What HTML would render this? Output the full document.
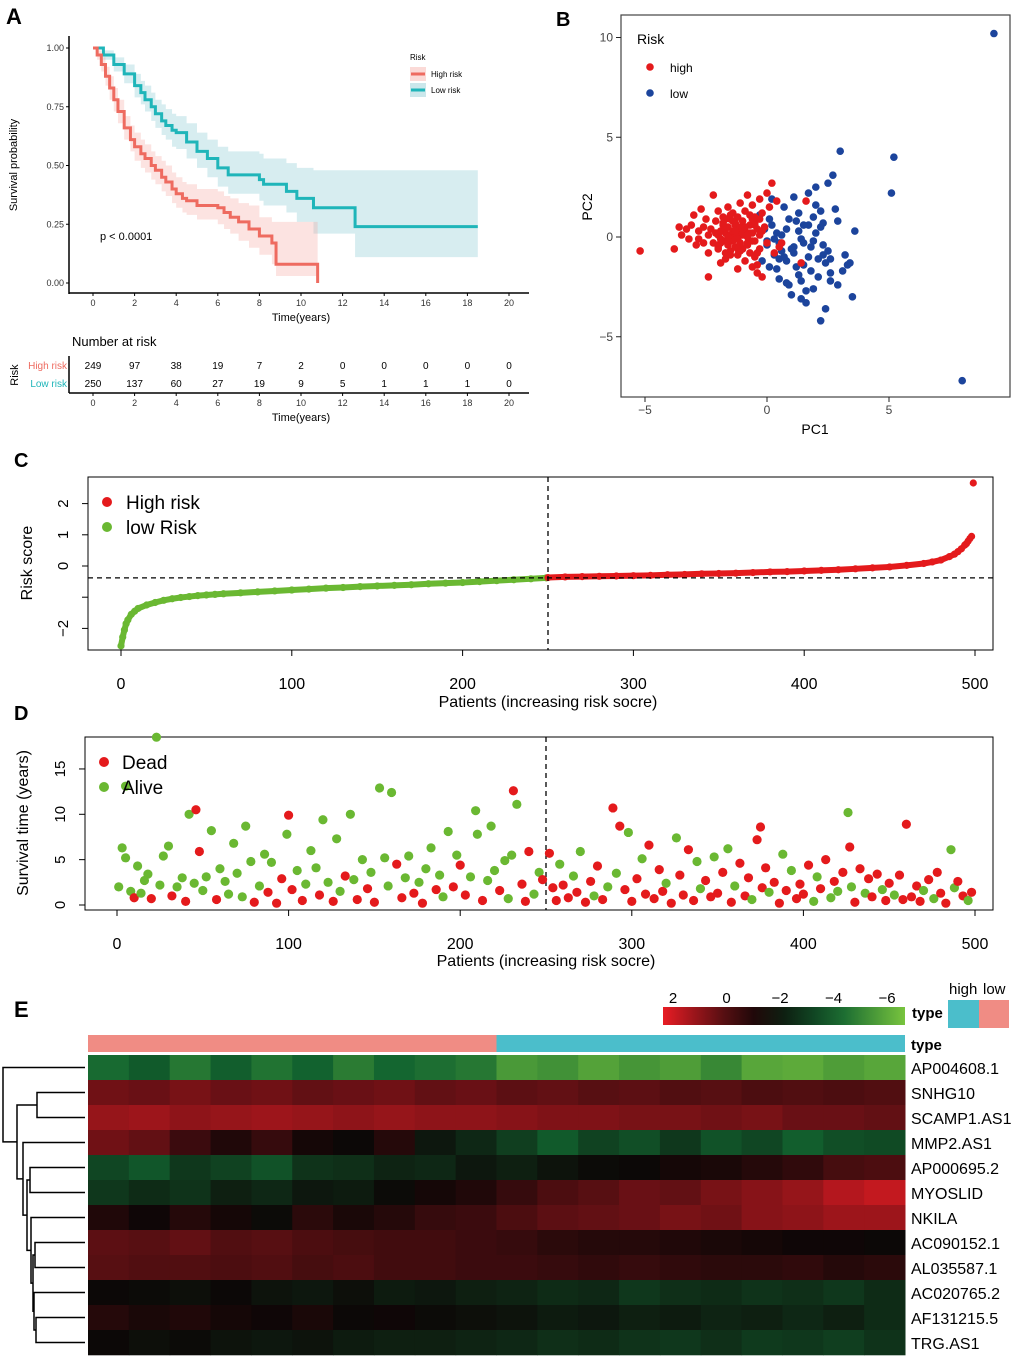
<!DOCTYPE html>
<html><head><meta charset="utf-8">
<style>
html,body{margin:0;padding:0;background:#fff;}
svg{display:block;font-family:"Liberation Sans",Arial,sans-serif;}
</style></head>
<body>
<svg id="fig" width="1020" height="1362" viewBox="0 0 1020 1362" xmlns="http://www.w3.org/2000/svg">
<g id="panelA"></g>
<g id="panelB"></g>
<g id="panelC"></g>
<g id="panelD"></g>
<g id="panelE"></g>
</svg>
<script>
// ===== Panel A data =====
const kmHighT=[0,0.2,0.4,0.6,0.8,1,1.2,1.5,1.8,2,2.3,2.5,2.8,3,3.3,3.5,3.8,4,4.3,4.5,5,6,6.3,6.6,7,7.5,8,8.6,8.8,10.8];
const kmHighS=[1,0.97,0.93,0.88,0.83,0.78,0.73,0.66,0.61,0.58,0.55,0.53,0.50,0.48,0.45,0.43,0.40,0.38,0.36,0.35,0.33,0.32,0.30,0.28,0.26,0.23,0.2,0.17,0.08,0.08];
const kmHighLo=[1,0.95,0.90,0.84,0.78,0.73,0.68,0.61,0.56,0.52,0.49,0.47,0.44,0.42,0.39,0.37,0.34,0.32,0.30,0.29,0.27,0.25,0.23,0.21,0.18,0.15,0.12,0.08,0.03,0.03];
const kmHighHi=[1,0.99,0.96,0.92,0.88,0.83,0.78,0.71,0.67,0.64,0.61,0.59,0.56,0.54,0.52,0.50,0.47,0.45,0.43,0.42,0.40,0.39,0.37,0.36,0.34,0.33,0.28,0.26,0.26,0.26];
const kmLowT=[0,0.5,1,1.5,2,2.3,2.5,2.8,3,3.3,3.5,3.8,4,4.5,5,5.5,6,6.5,8,8.2,9.3,9.8,10.6,12.6,18.5];
const kmLowS=[1,0.97,0.93,0.89,0.84,0.81,0.78,0.75,0.72,0.69,0.67,0.65,0.64,0.6,0.56,0.53,0.49,0.46,0.44,0.42,0.39,0.36,0.32,0.24,0.24];
const kmLowLo=[1,0.95,0.90,0.85,0.79,0.76,0.73,0.69,0.66,0.63,0.61,0.58,0.57,0.53,0.49,0.45,0.41,0.38,0.35,0.33,0.30,0.26,0.21,0.11,0.11];
const kmLowHi=[1,0.99,0.96,0.93,0.89,0.86,0.84,0.81,0.78,0.76,0.74,0.72,0.71,0.68,0.64,0.61,0.58,0.56,0.55,0.53,0.51,0.49,0.48,0.48,0.48];
const riskTimes=[0,2,4,6,8,10,12,14,16,18,20];
const riskHigh=[249,97,38,19,7,2,0,0,0,0,0];
const riskLow=[250,137,60,27,19,9,5,1,1,1,0];
const yTicksA=[0,0.25,0.5,0.75,1];

// ===== Panel B data =====
const highX=[-5.2,-3.8,-3.6,-3.5,-3.3,-3.2,-3.1,-3,-2.9,-2.8,-2.8,-2.7,-2.6,-2.6,-2.5,-2.4,-2.4,-2.3,-2.2,-2.2,-2.1,-2,-2,-2,-1.9,-1.9,-1.8,-1.8,-1.8,-1.7,-1.7,-1.6,-1.6,-1.6,-1.5,-1.5,-1.5,-1.4,-1.4,-1.4,-1.3,-1.3,-1.3,-1.2,-1.2,-1.2,-1.1,-1.1,-1.1,-1,-1,-1,-0.9,-0.9,-0.9,-0.8,-0.8,-0.8,-0.7,-0.7,-0.7,-0.6,-0.6,-0.6,-0.5,-0.5,-0.5,-0.4,-0.4,-0.3,-0.3,-0.2,-0.2,-0.1,0,0,0.1,0.2,0.3,0.4,-1.2,-0.3,-0.6,-0.9,-1.7,-2.4,-1.5,-1.9,-0.4,0.5,-1.0,
 -2.1,-1.9,-1.7,-1.5,-1.3,-1.1,-0.9,-0.7,-0.5,-0.3,-2.0,-1.8,-1.6,-1.4,-1.2,-1.0,-0.8,-0.6,-0.4,-0.2,-1.7,-1.5,-1.3,-1.1,-0.9,-0.7,-0.5,-1.6,-1.2,-0.8,1.4,1.6,0.6];
const highY=[-0.7,-0.6,0.5,0.1,0.4,-0.1,0.6,1.1,-0.4,0.3,-0.1,1.4,0.5,-0.3,0.9,0.1,-0.8,0.4,-0.3,2.1,0.8,0.1,-0.6,1.3,0.3,-1.3,0.6,-0.2,1.0,0.2,-0.8,0.5,-0.4,1.5,0.1,-0.7,0.9,0.3,-0.2,1.2,0.6,-0.5,0.0,0.2,-0.9,1.0,0.5,-0.3,1.7,0.1,-0.6,0.8,0.3,-1.2,1.3,0.0,-0.4,2.1,0.6,-0.8,1.1,0.2,-1.5,1.6,-0.2,0.7,-1.0,0.4,-1.8,1.9,-0.6,1.2,-2.0,0.5,2.2,-0.3,1.5,2.7,-0.8,1.8,-1.6,0.9,-0.2,0.3,-1.1,-2.0,1.1,-0.1,-1.4,-0.5,0.2,
 0.2,-0.3,0.4,-0.1,0.3,-0.4,0.5,-0.2,0.6,0.1,-0.5,0.7,0.0,0.8,-0.6,0.4,-0.3,0.9,-0.8,0.3,0.9,-0.9,0.7,-0.7,0.5,0.2,1.0,-0.2,-0.1,0.1,-1.3,1.8,-0.3];
const lowX=[9.3,8,5.2,5.1,3,3.6,3.5,3.3,3.1,2.9,2.7,2.6,2.5,2.4,2.3,2.2,2.1,2.0,1.9,1.8,1.7,1.6,1.5,1.4,1.3,1.2,1.1,1.0,0.9,0.8,0.7,0.6,0.5,0.4,0.3,0.2,0.1,0,-0.1,-0.2,-0.3,0.2,0.5,0.8,1.1,1.4,1.7,2.0,2.3,2.6,2.9,3.2,0.4,0.9,1.3,1.8,2.2,0.1,0.6,1.0,1.5,1.9,2.4,2.8,0.3,0.7,1.2,1.6,2.1,0.0,1.4,2.0,2.5,3.4,2.2,1.3,0.8,1.7,2.6,1.1,0.5,1.9,2.3,1.5];
const lowY=[10.2,-7.2,4.0,2.2,4.3,0.3,-3.0,-1.4,-1.7,-2.4,3.1,-1.1,2.7,-3.6,0.7,-4.2,-2.0,1.6,-2.6,-1.7,2.2,-3.3,0.6,-2.2,1.2,-1.5,2.0,-2.9,0.9,-1.2,1.5,-0.7,-2.1,0.2,-0.9,1.9,-1.5,-0.4,0.4,-1.2,1.1,0.6,-0.3,0.4,-0.8,-0.1,-1.0,0.2,-0.4,-1.8,0.8,-0.9,-1.6,-2.4,-1.9,-0.5,0.5,0.9,0.1,-0.6,-1.4,1.0,-1.3,1.4,-0.1,-1.0,0.8,-2.7,-1.1,-0.2,-3.1,2.5,-0.7,-1.3,1.3,0.3,-2.3,0.6,-2.2,-0.5,-1.1,-0.2,-0.9,-0.3];
const pcaTicks=[-5,0,5,10];

// ===== Panel C data =====
const rankC=[0,1,2,3,4,6,8,10,15,20,25,30,35,40,45,50,55,60,70,80,90,100,110,120,130,140,150,160,170,180,190,200,210,220,230,240,249];
const scoreLow=[-2.56,-2.28,-2.05,-1.85,-1.73,-1.55,-1.45,-1.36,-1.25,-1.17,-1.10,-1.05,-1.01,-0.98,-0.95,-0.93,-0.91,-0.89,-0.86,-0.83,-0.80,-0.77,-0.74,-0.71,-0.69,-0.66,-0.64,-0.62,-0.60,-0.57,-0.55,-0.53,-0.50,-0.47,-0.44,-0.41,-0.38];
const rankH=[250,260,270,280,290,300,310,320,330,340,350,360,370,380,390,400,410,420,430,440,450,460,470,475,480,485,488,490,492,494,495,496,497,498,499];
const scoreHigh=[-0.37,-0.35,-0.34,-0.33,-0.32,-0.31,-0.30,-0.28,-0.27,-0.25,-0.24,-0.23,-0.21,-0.19,-0.18,-0.16,-0.14,-0.12,-0.09,-0.06,-0.03,0.02,0.08,0.13,0.19,0.30,0.38,0.46,0.55,0.67,0.72,0.80,0.88,0.95,2.66];
const cYTicks=[-2,-1,0,1,2];
const cXTicks=[0,100,200,300,400,500];

// ===== Panel D data =====
const patD=[1,3,5,5,8,10,12,14,16,18,20,23,25,27,30,32,35,38,40,42,45,46,48,50,52,55,58,60,63,65,68,70,73,75,78,80,83,86,88,90,93,96,99,100,102,105,108,110,113,116,118,120,123,126,128,130,133,136,138,140,143,146,148,150,153,156,158,160,163,166,168,170,173,176,178,180,183,186,188,190,193,196,198,200,203,206,209,210,213,216,218,220,223,226,228,230,231,233,236,238,240,243,246,248,
 252,254,256,258,260,263,266,268,270,273,276,278,280,283,286,289,291,293,296,298,300,303,306,308,310,313,316,318,320,323,326,328,330,333,336,338,340,343,346,348,350,353,356,358,360,363,366,368,370,373,375,376,378,380,383,386,388,390,393,396,398,400,403,406,408,410,413,416,418,420,423,426,427,428,430,433,436,438,440,443,446,448,450,453,456,458,460,463,466,468,470,473,476,478,480,483,486,488,490,493,496,498];
const timeD=[2.0,6.3,13.1,5.2,1.5,0.8,4.3,1.3,2.7,3.4,0.7,18.5,2.2,5.4,6.5,1.0,2.0,3.0,0.4,10.0,2.4,10.5,5.9,1.6,3.1,8.2,0.6,4.0,2.6,1.2,6.8,3.5,0.9,8.7,4.8,0.3,2.1,5.6,1.4,4.7,0.2,2.9,7.8,9.9,1.7,3.8,0.5,2.3,6.0,4.1,1.1,9.4,2.5,0.4,7.3,1.5,3.2,10.0,2.8,0.6,5.0,1.8,3.6,0.3,12.9,5.2,2.1,12.4,4.5,0.8,3.0,5.4,1.3,2.5,0.2,4.0,6.3,1.7,3.3,0.9,8.1,2.0,5.5,4.4,1.1,3.1,10.4,7.8,0.5,2.7,8.7,3.8,1.6,4.9,0.7,5.5,12.6,11.1,2.3,0.4,5.9,1.2,3.6,2.8,
 5.7,1.9,0.5,4.5,2.2,0.8,3.2,1.4,5.9,0.3,2.6,1.0,4.3,0.6,2.0,10.7,3.5,8.7,1.7,8.0,0.4,2.9,5.1,1.2,6.6,0.7,3.9,1.5,2.4,0.2,7.4,3.3,1.1,6.1,0.5,4.8,1.8,2.7,0.9,5.3,1.3,3.6,6.2,0.3,2.1,4.6,1.0,3.0,0.6,7.2,8.6,1.9,4.1,1.4,2.5,0.2,5.6,1.6,3.8,0.7,2.3,1.2,4.4,0.4,3.1,1.8,5.0,0.8,2.6,1.5,3.6,10.2,6.4,2.0,0.3,4.0,1.3,2.9,0.9,3.4,1.7,0.5,2.4,1.1,3.3,0.6,8.9,0.9,2.1,0.4,1.6,2.8,0.7,3.6,1.3,0.2,6.1,1.9,2.6,1.0,0.5,1.4];
const deadD=[0,0,0,0,0,1,0,0,0,0,1,0,0,0,0,1,0,0,1,0,0,1,1,0,0,0,1,0,0,0,0,0,0,0,0,1,0,0,1,0,1,1,0,1,1,0,1,0,0,0,1,0,0,1,0,0,1,0,0,1,0,1,0,1,0,0,0,0,1,1,0,0,1,0,1,0,0,1,0,0,0,1,0,1,1,0,0,0,1,0,0,0,1,0,0,0,1,0,1,1,1,0,0,1,
 1,1,1,0,1,1,0,1,0,1,1,0,1,1,0,1,0,1,1,0,1,1,0,1,1,1,1,1,0,1,0,1,1,1,1,0,0,1,1,0,1,1,0,1,0,1,1,1,0,1,1,1,1,0,1,1,0,1,0,1,1,1,1,0,0,1,1,0,1,0,1,0,1,0,1,1,0,1,1,1,0,1,1,0,1,1,1,1,1,1,0,1,0,1,1,1,0,0,1,1,0,1];
const dYTicks=[0,5,10,15];

// ===== Panel E data =====
const genes=["AP004608.1","SNHG10","SCAMP1.AS1","MMP2.AS1","AP000695.2","MYOSLID","NKILA","AC090152.1","AL035587.1","AC020765.2","AF131215.5","TRG.AS1"];
const expr=[
[-3.9,-3.5,-4.2,-3.6,-4.1,-3.7,-4.3,-3.8,-4.0,-4.2,-5.0,-4.8,-5.2,-4.9,-5.1,-4.6,-5.3,-5.4,-5.1,-5.3],
[0.4,0.3,0.5,0.3,0.4,0.2,0.3,0.4,0.2,0.3,0.1,0.2,0.0,0.1,-0.1,0.0,-0.2,-0.1,-0.2,-0.1],
[0.9,1.0,0.8,0.9,1.0,0.9,0.8,0.9,0.8,0.8,0.7,0.6,0.6,0.5,0.5,0.4,0.5,0.3,0.3,0.2],
[0.4,0.2,-0.5,-1.0,-0.6,-1.2,-1.4,-0.9,-1.8,-2.2,-2.8,-3.5,-2.9,-3.2,-2.6,-3.3,-3.0,-3.6,-3.2,-3.1],
[-3.0,-3.4,-2.6,-2.9,-3.3,-2.5,-2.4,-2.1,-2.2,-1.8,-2.0,-1.7,-1.5,-1.4,-1.2,-1.1,-0.9,-0.7,-0.3,-0.2],
[-2.6,-2.3,-2.5,-2.0,-2.2,-1.8,-1.9,-1.5,-1.2,-1.0,-0.6,-0.2,0.0,0.3,0.2,0.5,0.7,0.9,1.3,1.5],
[-1.0,-1.3,-0.9,-1.2,-1.5,-0.8,-1.1,-0.9,-0.6,-0.5,-0.2,0.1,0.2,0.3,0.5,0.4,0.7,0.8,1.0,1.0],
[0.1,0.0,0.2,-0.1,0.0,-0.2,-0.3,-0.4,-0.4,-0.5,-0.6,-0.8,-0.9,-0.9,-1.0,-1.1,-1.2,-1.3,-1.3,-1.4],
[0.0,-0.1,-0.1,-0.2,-0.1,-0.3,-0.2,-0.4,-0.4,-0.5,-0.5,-0.6,-0.7,-0.6,-0.7,-0.8,-0.8,-0.7,-0.9,-0.8],
[-1.4,-1.5,-1.6,-1.4,-1.7,-1.8,-1.6,-1.9,-1.8,-2.0,-2.1,-2.3,-2.2,-2.6,-2.4,-2.3,-2.5,-2.4,-2.6,-2.3],
[-0.9,-1.1,-1.0,-1.2,-1.3,-1.1,-1.4,-1.3,-1.5,-1.6,-1.7,-1.9,-1.8,-2.0,-1.9,-2.1,-2.0,-2.2,-2.0,-2.3],
[-1.4,-1.6,-1.5,-1.7,-1.8,-1.7,-1.9,-2.0,-2.0,-2.1,-2.2,-2.4,-2.3,-2.5,-2.6,-2.4,-2.7,-2.6,-2.8,-2.5]];
const colorKeyTicks=[2,0,-2,-4,-6];

const NS="http://www.w3.org/2000/svg";
function mk(parent,tag,attrs,text){const e=document.createElementNS(NS,tag);for(const k in attrs)e.setAttribute(k,attrs[k]);if(text!==undefined)e.textContent=text;parent.appendChild(e);return e;}

// ================= Panel A =================
(function(){
const g=document.getElementById('panelA');
const xA=t=>93+t*20.8, yA=s=>283-s*235;
let e=mk(g,'text',{x:6,y:24,'font-size':22,'font-weight':'bold'},'A');


function band(T,L,H,color,name){
  let d='M'+xA(T[0])+','+yA(H[0]);
  for(let i=1;i<T.length;i++){d+='H'+xA(T[i])+'V'+yA(H[i]);}
  d+='V'+yA(L[L.length-1]);
  for(let i=T.length-1;i>0;i--){d+='H'+xA(T[i])+'V'+yA(L[i-1]);}
  d+='H'+xA(T[0])+'Z';
  const p=mk(g,'path',{d:d,fill:color,opacity:0.3});
  
  
}
function step(T,S,color,name,endDrop){
  let d='M'+xA(T[0])+','+yA(S[0]);
  for(let i=1;i<T.length;i++){d+='H'+xA(T[i])+'V'+yA(S[i]);}
  if(endDrop)d+='V'+yA(0);
  const p=mk(g,'path',{d:d,fill:'none',stroke:color,'stroke-width':3});
  
  
}
band(kmLowT,kmLowLo,kmLowHi,'#7cc4cc','low');
band(kmHighT,kmHighLo,kmHighHi,'#f4a39a','high');
step(kmLowT,kmLowS,'#1fb5b9','low',false);
step(kmHighT,kmHighS,'#ee6b60','high',true);
mk(g,'line',{x1:69,y1:36,x2:69,y2:294,stroke:'#000','stroke-width':1.5});
mk(g,'line',{x1:69,y1:293,x2:529,y2:293,stroke:'#000','stroke-width':1.5});
yTicksA.forEach(v=>{
  mk(g,'line',{x1:66,x2:69,y1:yA(v),y2:yA(v),stroke:'#000'});
  const t=mk(g,'text',{x:64,y:yA(v)+3,'font-size':9,'text-anchor':'end',fill:'#333'},v.toFixed(2));
  
  
});
riskTimes.forEach(v=>{
  mk(g,'line',{x1:xA(v),x2:xA(v),y1:293,y2:296,stroke:'#000'});
  const t=mk(g,'text',{x:xA(v),y:306,'font-size':9,'text-anchor':'middle',fill:'#333'},v);
  
  
});
e=mk(g,'text',{x:301,y:321,'font-size':11,'text-anchor':'middle'},'Time(years)');


e=mk(g,'text',{x:17,y:165,'font-size':11,'text-anchor':'middle',transform:'rotate(-90 17 165)'},'Survival probability');


e=mk(g,'text',{x:100,y:240,'font-size':11},'p < 0.0001');


const lg=mk(g,'g',{});


mk(lg,'text',{x:410,y:60,'font-size':8},'Risk');
mk(lg,'rect',{x:410,y:67,width:16,height:14,fill:'#f4a39a',opacity:0.4});
mk(lg,'line',{x1:411,x2:425,y1:74,y2:74,stroke:'#ee6b60','stroke-width':3});
mk(lg,'text',{x:431,y:77,'font-size':8},'High risk');
mk(lg,'rect',{x:410,y:83,width:16,height:14,fill:'#7cc4cc',opacity:0.4});
mk(lg,'line',{x1:411,x2:425,y1:90,y2:90,stroke:'#1fb5b9','stroke-width':3});
mk(lg,'text',{x:431,y:93,'font-size':8},'Low risk');
e=mk(g,'text',{x:72,y:346,'font-size':13},'Number at risk');


mk(g,'line',{x1:69,y1:356,x2:69,y2:393,stroke:'#000','stroke-width':1.5});
mk(g,'line',{x1:69,y1:393,x2:529,y2:393,stroke:'#000','stroke-width':1.5});
mk(g,'text',{x:67,y:369,'font-size':10,'text-anchor':'end',fill:'#ee6b60'},'High risk');
mk(g,'text',{x:67,y:387,'font-size':10,'text-anchor':'end',fill:'#1fb5b9'},'Low risk');
mk(g,'text',{x:18,y:375,'font-size':11,'text-anchor':'middle',transform:'rotate(-90 18 375)'},'Risk');
riskTimes.forEach((v,i)=>{
  let t=mk(g,'text',{x:xA(v),y:369,'font-size':10,'text-anchor':'middle'},riskHigh[i]);
  
  
  t=mk(g,'text',{x:xA(v),y:387,'font-size':10,'text-anchor':'middle'},riskLow[i]);
  
  
  mk(g,'line',{x1:xA(v),x2:xA(v),y1:393,y2:396,stroke:'#000'});
  mk(g,'text',{x:xA(v),y:406,'font-size':9,'text-anchor':'middle',fill:'#333'},v);
});
mk(g,'text',{x:301,y:421,'font-size':11,'text-anchor':'middle'},'Time(years)');
})();

// ================= Panel B =================
(function(){
const g=document.getElementById('panelB');
const xB=v=>767+v*24.4, yB=v=>237-v*19.95;
let e=mk(g,'text',{x:556,y:26,'font-size':20,'font-weight':'bold'},'B');


mk(g,'rect',{x:621,y:15,width:389,height:382,fill:'none',stroke:'#444','stroke-width':1.2});
pcaTicks.forEach(v=>{
  if(v<10){mk(g,'line',{x1:xB(v),x2:xB(v),y1:397,y2:402,stroke:'#222'});
  mk(g,'text',{x:xB(v),y:414,'font-size':12,'text-anchor':'middle',fill:'#444'},v<0?'\u2212'+(-v):v);}
  mk(g,'line',{x1:616,x2:621,y1:yB(v),y2:yB(v),stroke:'#222'});
  mk(g,'text',{x:613,y:yB(v)+4,'font-size':12,'text-anchor':'end',fill:'#444'},v<0?'\u2212'+(-v):v);
});
e=mk(g,'text',{x:815,y:434,'font-size':14,'text-anchor':'middle'},'PC1');


e=mk(g,'text',{x:592,y:207,'font-size':14,'text-anchor':'middle',transform:'rotate(-90 592 207)'},'PC2');


lowX.forEach((v,i)=>{const c=mk(g,'circle',{cx:xB(v),cy:yB(lowY[i]),r:3.8,fill:'#1c449c'});
  
  });
highX.forEach((v,i)=>{const c=mk(g,'circle',{cx:xB(v),cy:yB(highY[i]),r:3.8,fill:'#e41a1c'});
  
  });
const lg=mk(g,'g',{});


mk(lg,'text',{x:637,y:44,'font-size':14},'Risk');
mk(lg,'circle',{cx:650,cy:67,r:3.8,fill:'#e41a1c'});
mk(lg,'text',{x:670,y:72,'font-size':12},'high');
mk(lg,'circle',{cx:650,cy:93,r:3.8,fill:'#1c449c'});
mk(lg,'text',{x:670,y:98,'font-size':12},'low');
})();

// ================= Panel C =================
(function(){
const g=document.getElementById('panelC');
const xC=v=>121+v*1.708, yC=v=>566-v*31.2;
let e=mk(g,'text',{x:14,y:467,'font-size':20,'font-weight':'bold'},'C');


mk(g,'rect',{x:88,y:477,width:905,height:173,fill:'none',stroke:'#000','stroke-width':1});
let d='';rankC.forEach((v,i)=>{d+=(i?'L':'M')+xC(v)+','+yC(scoreLow[i]);});
mk(g,'path',{d:d,fill:'none',stroke:'#6ab832','stroke-width':6,'stroke-linecap':'round','stroke-linejoin':'round'});
rankC.forEach((v,i)=>{const c=mk(g,'circle',{cx:xC(v),cy:yC(scoreLow[i]),r:3.6,fill:'#6ab832'});
  
  });
d='';rankH.slice(0,-1).forEach((v,i)=>{d+=(i?'L':'M')+xC(v)+','+yC(scoreHigh[i]);});
mk(g,'path',{d:d,fill:'none',stroke:'#e41a1c','stroke-width':6,'stroke-linecap':'round','stroke-linejoin':'round'});
rankH.forEach((v,i)=>{const c=mk(g,'circle',{cx:xC(v),cy:yC(scoreHigh[i]),r:3.6,fill:'#e41a1c'});
  
  });
mk(g,'line',{x1:88,x2:993,y1:yC(-0.38),y2:yC(-0.38),stroke:'#000','stroke-dasharray':'5,4','stroke-width':1.3});
mk(g,'line',{x1:xC(250),x2:xC(250),y1:477,y2:650,stroke:'#000','stroke-dasharray':'5,4','stroke-width':1.3});
cYTicks.forEach(v=>{mk(g,'line',{x1:82,x2:88,y1:yC(v),y2:yC(v),stroke:'#000'});
  if(v!==-1)mk(g,'text',{x:63,y:yC(v),'font-size':15,'text-anchor':'middle',transform:`rotate(-90 63 ${yC(v)})`,dy:5},v<0?'\u2212'+(-v):v);});
cXTicks.forEach(v=>{mk(g,'line',{x1:xC(v),x2:xC(v),y1:650,y2:656,stroke:'#000'});
  mk(g,'text',{x:xC(v),y:689,'font-size':16,'text-anchor':'middle'},v);});
e=mk(g,'text',{x:548,y:707,'font-size':16,'text-anchor':'middle'},'Patients (increasing risk socre)');


e=mk(g,'text',{x:32,y:563,'font-size':16,'text-anchor':'middle',transform:'rotate(-90 32 563)'},'Risk score');


const lg=mk(g,'g',{});


mk(lg,'circle',{cx:107,cy:502,r:5,fill:'#e41a1c'});
mk(lg,'text',{x:126,y:509,'font-size':19},'High risk');
mk(lg,'circle',{cx:107,cy:527,r:5,fill:'#6ab832'});
mk(lg,'text',{x:126,y:534,'font-size':19},'low Risk');
})();

// ================= Panel D =================
(function(){
const g=document.getElementById('panelD');
const xD=v=>117+v*1.716, yD=v=>905-v*9.07;
let e=mk(g,'text',{x:14,y:720,'font-size':20,'font-weight':'bold'},'D');


mk(g,'rect',{x:85,y:737,width:908,height:173,fill:'none',stroke:'#000','stroke-width':1});
mk(g,'line',{x1:xD(250),x2:xD(250),y1:737,y2:910,stroke:'#000','stroke-dasharray':'5,4','stroke-width':1.3});
patD.forEach((p,i)=>{const c=mk(g,'circle',{cx:xD(p),cy:yD(timeD[i]),r:4.6,fill:deadD[i]?'#e41a1c':'#6ab832'});
  
  });
dYTicks.forEach(v=>{mk(g,'line',{x1:79,x2:85,y1:yD(v),y2:yD(v),stroke:'#000'});
  mk(g,'text',{x:60,y:yD(v),dy:5,'font-size':15,'text-anchor':'middle',transform:`rotate(-90 60 ${yD(v)})`},v);});
[0,100,200,300,400,500].forEach(v=>{mk(g,'line',{x1:xD(v),x2:xD(v),y1:910,y2:916,stroke:'#000'});
  mk(g,'text',{x:xD(v),y:949,'font-size':16,'text-anchor':'middle'},v);});
e=mk(g,'text',{x:546,y:966,'font-size':16,'text-anchor':'middle'},'Patients (increasing risk socre)');


e=mk(g,'text',{x:28,y:823,'font-size':16,'text-anchor':'middle',transform:'rotate(-90 28 823)'},'Survival time (years)');


const lg=mk(g,'g',{});


mk(lg,'circle',{cx:104,cy:762,r:5,fill:'#e41a1c'});
mk(lg,'text',{x:122,y:769,'font-size':19},'Dead');
mk(lg,'circle',{cx:104,cy:787,r:5,fill:'#6ab832'});
mk(lg,'text',{x:122,y:794,'font-size':19},'Alive');
})();

// ================= Panel E =================
(function(){
const g=document.getElementById('panelE');
function col(v){
  const t=Math.max(0,Math.min(1,(2-v)/8));
  const st=[[0,[232,28,36]],[0.22,[100,16,20]],[0.42,[12,6,6]],[0.72,[18,100,48]],[1,[120,196,62]]];
  for(let i=1;i<st.length;i++){if(t<=st[i][0]){const a=st[i-1],b=st[i],f=(t-a[0])/(b[0]-a[0]);
    return 'rgb('+a[1].map((c,k)=>Math.round(c+(b[1][k]-c)*f)).join(',')+')';}}
  return 'rgb(120,196,62)';
}
let e=mk(g,'text',{x:14,y:1017,'font-size':22,'font-weight':'bold'},'E');


const X0=88,X1=905,Y0=1055,RH=25;
let r=mk(g,'rect',{x:X0,y:1035,width:(X1-X0)/2,height:17,fill:'#f08c84'});


r=mk(g,'rect',{x:X0+(X1-X0)/2,y:1035,width:(X1-X0)/2,height:17,fill:'#4bbecb'});


mk(g,'text',{x:911,y:1050,'font-size':15,'font-weight':'bold'},'type');
const segW=(X1-X0)/expr[0].length;
expr.forEach((row,ri)=>{
  row.forEach((v,ci)=>{
    const c=mk(g,'rect',{x:X0+ci*segW,y:Y0+ri*RH,width:segW+0.5,height:RH+0.3,fill:col(v)});
    
    
  });
  const t=mk(g,'text',{x:911,y:Y0+ri*RH+19,'font-size':16},genes[ri]);
  
  
});
const defs=mk(g,'defs',{});
const lgd=mk(defs,'linearGradient',{id:'ck',x1:0,x2:1,y1:0,y2:0});
[2,1,0,-1,-2,-3,-4,-5,-6].forEach((v,i)=>mk(lgd,'stop',{offset:(i/8),'stop-color':col(v)}));
r=mk(g,'rect',{x:663,y:1007,width:242,height:18,fill:'url(#ck)'});


const ckX=v=>673+(2-v)*26.75;
colorKeyTicks.forEach(v=>mk(g,'text',{x:ckX(v),y:1003,'font-size':15,'text-anchor':'middle'},v<0?'\u2212'+(-v):v));
mk(g,'text',{x:912,y:1018,'font-size':15,'font-weight':'bold'},'type');
r=mk(g,'rect',{x:948,y:1000,width:31,height:28,fill:'#4bbecb'});


r=mk(g,'rect',{x:979,y:1000,width:30,height:28,fill:'#f08c84'});


mk(g,'text',{x:949,y:994,'font-size':15},'high');
mk(g,'text',{x:983,y:994,'font-size':15},'low');
const tree=[0,[[1,2],[3,[[4,5],[6,[[7,8],[9,[10,11]]]]]]]];
function draw(node){
  if(typeof node==='number')return {x:85,y:Y0+node*RH+RH/2};
  const a=draw(node[0]),b=draw(node[1]);
  const x=node._x;
  mk(g,'path',{d:`M${a.x},${a.y}H${x}V${b.y}H${b.x}`,fill:'none',stroke:'#000','stroke-width':1.5});
  return {x:x,y:(a.y+b.y)/2};
}
tree._x=3;tree[1]._x=17;tree[1][0]._x=37;tree[1][1]._x=23;
const C=tree[1][1][1];C._x=27;C[0]._x=30;C[1]._x=31;C[1][1]._x=33;C[1][1][0]._x=35;C[1][1][1]._x=34;C[1][1][1][1]._x=36;
draw(tree);
})();
</script>
</body></html>
